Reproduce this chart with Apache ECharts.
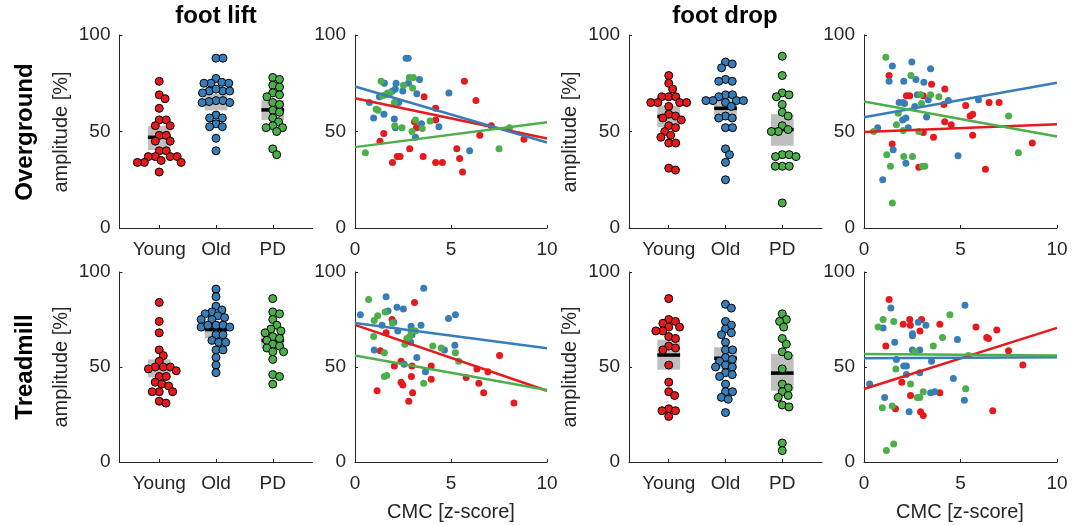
<!DOCTYPE html>
<html>
<head>
<meta charset="utf-8">
<script src="https://cdn.jsdelivr.net/npm/echarts@6/dist/echarts.min.js"></script>
<style>
body { margin: 0; background: #fff; }
#chart { width: 1083px; height: 525px; }
</style>
</head>
<body>
<div id="chart"></div>
<script>
// groups and colours
var groups = ['Young', 'Old', 'PD'];
var groupColors = ['#e41a1c', '#377eb8', '#4daf4a'];

// swarm data, amplitude [%]
var ogLiftYoung = [76,69,67,62,56,56,53,53,48,48,45,45,40,40,37,37,37,37,35,34,34,34,29];
var ogLiftOld = [88,88,77.5,75.5,75,75,75,71,71,72,71,70,66,66,65.5,65,65,58.5,57,57,54,52.5,52.5,46.5,40];
var ogLiftPD = [78,77,74,73,70,69,68,65,64,61,60,57,55,53,52,52,50,41,38];
var ogDropYoung = [79,75,72,68,68,68,65,65,65,65,63,59,58,57,56,53,52,50,48,47,44,44,31,30];
var ogDropOld = [86,85,83,77,76,76,69,69,68,66,66,66,66,65,63,58,57,57,52,52,41,38,34,25];
var ogDropPD = [89,79,70,69,68,64,60,58,53,51,50,50,38,38,37,37,32,32,32,13];
var tmLiftYoung = [84,74,68,59,56,53,50,50,50,49,48,45,45,42,41,40,37,37,37,32,31];
var tmLiftOld = [91,87,82,80,79,78,77,76,75,75,72,72,71,71,72,67,67,64,63,63,59,59,55,51,47];
var tmLiftPD = [86,79,78,75,72,70,69,68,66,65,64,62,61,60,58,58,54,46,45,41];
var tmDropYoung = [86,75,74,73,71,71,69,69,66,65,61,60,59,51,42,37,35,28,27,27,24];
var tmDropOld = [83,81,74,72,70,68,67,63,59,59,55,54,53,51,50,50,47,46,45,41,37,37,34,33,26];
var tmDropPD = [78,75,74,71,65,62,58,56,49,41,39,37,35,34,30,29,10,6];

// mean bar and grey box (lower / upper) per group
var ogLiftMean = [47, 66, 61.2], ogLiftLo = [40.4, 60.9, 56], ogLiftHi = [52.8, 69.8, 66.4];
var ogDropMean = [57.8, 62, 51], ogDropLo = [52.2, 56, 42.6], ogDropHi = [63.3, 68, 59];
var tmLiftMean = [49.8, 69.7, 63.9], tmLiftLo = [44.5, 65.1, 59.9], tmLiftHi = [54, 73.6, 67.4];
var tmDropMean = [56.3, 54.6, 46.8], tmDropLo = [48.6, 48.9, 37.5], tmDropHi = [64.4, 60.4, 56.9];

// CMC [z-score] vs amplitude
var ogLiftCmcYoung = [[3.6,68],[1.5,49],[1.3,45],[4.2,62],[4.2,56],[3.1,55],[3.2,52],[5.7,76],[6.3,66],[7.1,53],[6.5,48],[8.8,46],[2.85,41],[5.3,41],[5.45,36],[3.55,37],[2.2,37],[2.35,37],[1.95,34],[4.2,34],[4.55,34],[5.6,29]];
var ogLiftCmcOld = [[2.66,88],[2.77,88],[3.36,77],[2.78,75],[2.14,75],[1.53,75],[2.1,72],[1.95,71],[2.49,71],[4.89,70],[3.22,69.5],[1.27,68],[0.75,65],[2.28,65],[1.51,59],[0.97,57],[2.05,56.5],[3.46,54],[2.1,52],[4.37,52.5],[3.15,47],[5.97,40]];
var ogLiftCmcPD = [[1.36,76],[2.83,78],[3.04,78],[2.52,74],[3.0,72.5],[1.7,70],[1.82,70],[1.6,69],[1.44,68.5],[2.05,65],[1.1,61.5],[1.2,61],[2.07,53],[2.45,52],[3.15,56],[3.5,51.5],[2.97,50],[3.91,55.5],[8.05,52],[7.5,41],[0.54,39]];
var ogDropCmcYoung = [[1.3,79],[3.5,74.5],[4.19,72],[2.2,68.5],[2.37,68.5],[3.07,68.5],[4.14,64],[5.27,63.5],[6.48,65],[7.0,65],[5.5,58],[5.63,59],[4.18,55],[4.52,53.5],[3.07,49.5],[3.6,47],[5.63,48],[1.46,43.5],[8.72,44],[2.84,31.5],[6.29,30.5]];
var ogDropCmcOld = [[1.47,84],[2.48,86],[3.45,82.5],[1.3,76],[2.06,76],[2.69,77],[3.1,75.5],[2.76,69],[3.33,66.5],[4.37,66],[5.93,66.5],[1.82,65],[2.03,65],[2.1,64.5],[2.63,63],[2.0,56],[2.17,57],[3.24,57.5],[0.71,52],[2.29,52],[1.51,40.5],[4.87,37.5],[2.17,33.5],[0.97,25]];
var ogDropCmcPD = [[1.13,88.5],[2.43,79],[2.93,69],[3.45,69],[3.88,68],[2.98,64.5],[1.77,59.5],[7.49,58],[1.68,53.5],[2.03,50.5],[0.5,50],[2.84,50],[1.18,38],[2.06,37],[2.51,37],[8.0,39],[1.37,32],[3.03,32],[3.15,32],[1.47,13]];
var tmLiftCmcYoung = [[3.1,84],[1.93,75],[1.62,68],[1.32,58.5],[2.4,53],[2.05,50.5],[2.97,50.5],[3.97,50.5],[6.35,49],[6.92,47.5],[7.53,56],[5.79,44.5],[2.4,42],[2.49,40.5],[2.94,45],[3.97,43.5],[6.45,41.5],[1.15,37.5],[3.0,36.5],[6.7,36.5],[2.8,32],[8.28,31]];
var tmLiftCmcOld = [[0.28,77.5],[1.62,87],[3.58,91.5],[2.19,81.5],[2.52,80.5],[1.72,79.5],[5.23,77.5],[4.87,75.5],[1.41,72],[2.02,73.5],[2.23,69],[2.92,71.5],[2.97,67],[3.44,72],[2.7,63.5],[2.9,63],[1.0,59],[5.2,61.5],[4.66,59],[3.22,55],[2.56,51.5],[3.67,47.5]];
var tmLiftCmcPD = [[0.71,85.5],[1.57,79],[1.18,77],[1.0,74.5],[0.97,66],[1.53,57.5],[2.92,69],[3.15,69],[2.7,65],[2.85,66],[4.05,61],[4.49,60],[5.23,57.5],[5.4,53],[1.53,45],[1.65,45.5],[3.58,41.5],[2.6,62],[1.95,73]];
var tmDropCmcYoung = [[1.3,85.5],[1.13,61],[2.03,72.5],[2.37,75],[2.4,72],[2.98,75],[2.9,69],[3.93,72.5],[5.8,71],[6.88,69.5],[6.36,65.5],[6.45,65],[7.49,58.5],[8.23,51],[1.96,42],[2.41,35],[3.93,36.5],[1.63,28],[2.93,26.5],[3.07,24.5],[6.67,27]];
var tmDropCmcOld = [[1.39,81],[5.23,82.5],[0.99,70.5],[2.81,73.5],[3.21,72],[2.51,67.5],[2.51,66.5],[1.59,63],[4.84,64.5],[2.51,59],[2.89,59],[1.68,54],[2.06,50.5],[2.2,50.5],[3.5,53],[2.2,46],[2.89,47],[0.29,41],[4.63,44],[1.07,34],[3.45,36.5],[3.67,37],[5.2,32.5],[2.34,26.5]];
var tmDropCmcPD = [[0.73,71],[0.99,75],[1.54,74],[4.45,77.5],[4.07,65.5],[3.59,61],[2.63,58],[5.41,56],[1.65,49],[2.41,41],[3.07,37],[2.76,34],[2.89,34],[5.27,38.5],[0.95,28.5],[1.46,29.5],[1.16,6],[1.54,9.5]];

// fitted lines: amplitude at CMC = 0 and CMC = 10 (Young, Old, PD)
var ogLiftFitStart = [67.2, 73.3, 41.9], ogLiftFitEnd = [46.4, 44.3, 54.8];
var ogDropFitStart = [49.7, 57.4, 65.5], ogDropFitEnd = [53.8, 75.3, 47.4];
var tmLiftFitStart = [72.2, 73.2, 56], tmLiftFitEnd = [37.5, 59.9, 37.9];
var tmDropFitStart = [38.4, 54.6, 56.9], tmDropFitEnd = [70.6, 55.1, 56];

// layout
var colLeft = [119.5, 355, 629, 864];
var colWidth = [193, 192, 193, 193];
var rowTop = [35, 272];
var rowHeight = [193, 190];
var FONT = '"Liberation Sans", Arial, sans-serif';
var AX = '#262626';

// beeswarm: pixel x offsets, markers may overlap a little (d < marker size)
function swarmOffsets(vals, yScale, d) {
    var order = vals.map(function (v, i) { return i; }).sort(function (a, b) { return vals[b] - vals[a]; });
    var placed = [], off = [];
    order.forEach(function (i) {
        var y = vals[i] * yScale;
        var near = placed.filter(function (p) { return Math.abs(p.y - y) < d; });
        var cands = [0];
        near.forEach(function (p) {
            var dx = Math.sqrt(d * d - (p.y - y) * (p.y - y));
            cands.push(p.x + dx, p.x - dx);
        });
        cands.sort(function (a, b) { return Math.abs(a) - Math.abs(b); });
        var x = 0;
        for (var k = 0; k < cands.length; k++) {
            var c = cands[k];
            var ok = near.every(function (p) { return (p.x - c) * (p.x - c) + (p.y - y) * (p.y - y) >= d * d - 0.01; });
            if (ok) { x = c; break; }
        }
        placed.push({ x: x, y: y });
        off[i] = x;
    });
    return off;
}

var grids = [], xAxes = [], yAxes = [], series = [];

function addGrid(col, row, isSwarm) {
    var idx = grids.length;
    grids.push({ left: colLeft[col], top: rowTop[row], width: colWidth[col], height: rowHeight[row] });
    var axisCommon = {
        gridIndex: idx,
        axisLine: { show: true, onZero: false, lineStyle: { color: AX, width: 1 } },
        axisTick: { show: true, inside: true, length: 3, lineStyle: { color: AX } },
        splitLine: { show: false },
        axisLabel: { color: AX, fontSize: 19, fontFamily: FONT, margin: 9 }
    };
    if (isSwarm) {
        xAxes.push(echarts.util.merge({
            type: 'value', min: 0.3, max: 3.7,
            axisLabel: { customValues: [1, 2, 3], margin: 12, formatter: function (v) { return groups[Math.round(v) - 1]; } },
            axisTick: { customValues: [1, 2, 3] }
        }, axisCommon, false));
    } else {
        xAxes.push(echarts.util.merge({
            type: 'value', min: 0, max: 10, interval: 5,
            axisLabel: { margin: 12 }
        }, axisCommon, false));
    }
    yAxes.push(echarts.util.merge({ type: 'value', min: 0, max: 100, interval: 50 }, axisCommon, false));
    return idx;
}

function swarmPanel(col, row, sets, mean, lo, hi) {
    var idx = addGrid(col, row, true);
    var xScale = colWidth[col] / 3.4;
    var yScale = rowHeight[row] / 100;
    series.push({
        type: 'custom', xAxisIndex: idx, yAxisIndex: idx, z: 1, silent: true,
        data: groups.map(function (g, i) { return [i + 1, lo[i], hi[i], mean[i]]; }),
        renderItem: function (params, api) {
            var x = api.value(0);
            var p1 = api.coord([x - 0.2, api.value(2)]);
            var p2 = api.coord([x + 0.2, api.value(1)]);
            var m1 = api.coord([x - 0.2, api.value(3)]);
            var m2 = api.coord([x + 0.2, api.value(3)]);
            return { type: 'group', children: [
                { type: 'rect', shape: { x: p1[0], y: p1[1], width: p2[0] - p1[0], height: p2[1] - p1[1] }, style: { fill: '#bfbfbf' } },
                { type: 'line', shape: { x1: m1[0], y1: m1[1], x2: m2[0], y2: m2[1] }, style: { stroke: '#000', lineWidth: 3.5 } }
            ] };
        }
    });
    sets.forEach(function (vals, g) {
        var off = swarmOffsets(vals, yScale, 7);
        series.push({
            type: 'scatter', xAxisIndex: idx, yAxisIndex: idx, z: 3, symbolSize: 8,
            itemStyle: { color: groupColors[g], borderColor: '#000', borderWidth: 1, opacity: 1 },
            data: vals.map(function (v, i) { return [g + 1 + off[i] / xScale, v]; })
        });
    });
}

function cmcPanel(col, row, sets, fitStart, fitEnd) {
    var idx = addGrid(col, row, false);
    sets.forEach(function (pts, g) {
        series.push({
            type: 'scatter', xAxisIndex: idx, yAxisIndex: idx, z: 2, symbolSize: 7,
            itemStyle: { color: groupColors[g], opacity: 1 },
            data: pts
        });
    });
    sets.forEach(function (pts, g) {
        series.push({
            type: 'line', xAxisIndex: idx, yAxisIndex: idx, z: 4, showSymbol: false, symbol: 'none',
            lineStyle: { color: groupColors[g], width: 2.5 },
            data: [[0, fitStart[g]], [10, fitEnd[g]]]
        });
    });
}

swarmPanel(0, 0, [ogLiftYoung, ogLiftOld, ogLiftPD], ogLiftMean, ogLiftLo, ogLiftHi);
cmcPanel(1, 0, [ogLiftCmcYoung, ogLiftCmcOld, ogLiftCmcPD], ogLiftFitStart, ogLiftFitEnd);
swarmPanel(2, 0, [ogDropYoung, ogDropOld, ogDropPD], ogDropMean, ogDropLo, ogDropHi);
cmcPanel(3, 0, [ogDropCmcYoung, ogDropCmcOld, ogDropCmcPD], ogDropFitStart, ogDropFitEnd);
swarmPanel(0, 1, [tmLiftYoung, tmLiftOld, tmLiftPD], tmLiftMean, tmLiftLo, tmLiftHi);
cmcPanel(1, 1, [tmLiftCmcYoung, tmLiftCmcOld, tmLiftCmcPD], tmLiftFitStart, tmLiftFitEnd);
swarmPanel(2, 1, [tmDropYoung, tmDropOld, tmDropPD], tmDropMean, tmDropLo, tmDropHi);
cmcPanel(3, 1, [tmDropCmcYoung, tmDropCmcOld, tmDropCmcPD], tmDropFitStart, tmDropFitEnd);

function label(text, x, y, size, bold, rot) {
    return {
        type: 'text', x: x, y: y, rotation: rot ? Math.PI / 2 : 0, silent: true,
        style: { text: text, fill: bold ? '#000' : AX, font: (bold ? 'bold ' : '') + size + 'px ' + FONT, textAlign: 'center', textVerticalAlign: 'middle' }
    };
}

var graphics = [
    label('foot lift', 216, 16, 24, true, false),
    label('foot drop', 725, 16, 24, true, false),
    label('Overground', 25, 132, 24, true, true),
    label('Treadmill', 25, 367, 24, true, true),
    label('amplitude [%]', 61, 132, 20, false, true),
    label('amplitude [%]', 570, 132, 20, false, true),
    label('amplitude [%]', 61, 367, 20, false, true),
    label('amplitude [%]', 570, 367, 20, false, true),
    label('CMC [z-score]', 451, 512, 20, false, false),
    label('CMC [z-score]', 960, 512, 20, false, false)
];

var myChart = echarts.init(document.getElementById('chart'));
myChart.setOption({
    backgroundColor: '#fff',
    animation: false,
    grid: grids,
    xAxis: xAxes,
    yAxis: yAxes,
    series: series,
    graphic: graphics
});
</script>
</body>
</html>
